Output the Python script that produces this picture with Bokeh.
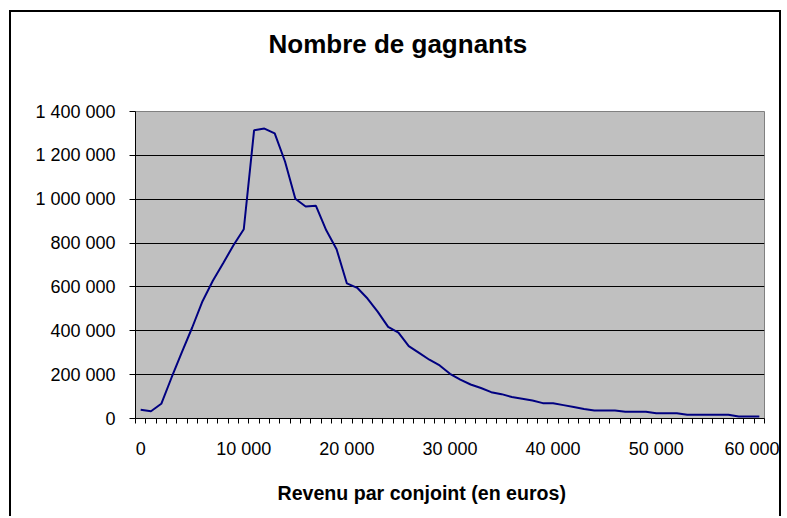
from bokeh.plotting import figure
from bokeh.models import FixedTicker, CustomJSTickFormatter, Range1d, Title
from bokeh.embed import file_html
from bokeh.resources import INLINE

# Data: income per spouse (euros), number of winners
income = list(range(0, 61000, 1000))
winners = [
    40000, 33000, 67000, 187000, 303000, 415000, 535000, 628000, 708000, 790000,
    863000, 1314000, 1322000, 1300000, 1172000, 1002000, 967000, 970000, 858000, 772000,
    616000, 596000, 547000, 486000, 418000, 392000, 330000, 299000, 268000, 242000,
    204000, 177000, 155000, 139000, 120000, 111000, 98000, 90000, 82000, 70000,
    70000, 61000, 52000, 43000, 37000, 37000, 37000, 31000, 31000, 31000,
    24000, 24000, 24000, 17000, 17000, 17000, 17000, 17000, 9000, 9000,
    9000,
]
x_tick_values = [0, 10000, 20000, 30000, 40000, 50000, 60000]
y_tick_values = [0, 200000, 400000, 600000, 800000, 1000000, 1200000, 1400000]
title_text = "Nombre de gagnants"
x_title_text = "Revenu par conjoint (en euros)"

W, H = 772, 506
p = figure(width=W, height=H, output_backend="svg", toolbar_location=None,
           x_range=Range1d(-500, 60500), y_range=Range1d(0, 1400000),
           min_border_left=124, min_border_right=19, min_border_top=99,
           min_border_bottom=100)
p.styles = {"border-top": "2px solid #000", "border-left": "2px solid #000",
            "border-right": "2px solid #000", "box-sizing": "border-box",
            "margin-left": "9px", "margin-top": "10px"}

p.background_fill_color = "#C0C0C0"
p.border_fill_color = "white"
p.outline_line_color = "#808080"
p.outline_line_width = 1

fmt = CustomJSTickFormatter(code="return Math.round(tick).toString().replace(/\\B(?=(\\d{3})+(?!\\d))/g, ' ');")

boundaries = [v - 500 for v in income] + [income[-1] + 500]
xax = p.xaxis[0]
xax.ticker = FixedTicker(ticks=x_tick_values, minor_ticks=boundaries)
xax.formatter = fmt
xax.major_tick_in = 0
xax.major_tick_out = 0
xax.minor_tick_in = 0
xax.minor_tick_out = 5
xax.minor_tick_line_color = "black"
xax.axis_line_color = "black"
xax.major_label_text_font = "Liberation Sans"
xax.major_label_text_font_size = "18px"
xax.major_label_text_color = "black"
xax.major_label_standoff = 15

yax = p.yaxis[0]
yax.ticker = FixedTicker(ticks=y_tick_values)
yax.formatter = fmt
yax.major_tick_in = 0
yax.major_tick_out = 6
yax.minor_tick_out = 0
yax.minor_tick_in = 0
yax.major_tick_line_color = "black"
yax.axis_line_color = "black"
yax.major_label_text_font = "Liberation Sans"
yax.major_label_text_font_size = "18px"
yax.major_label_text_color = "black"
yax.major_label_standoff = 14

p.xgrid.visible = False
p.ygrid.grid_line_color = "black"
p.ygrid.grid_line_width = 1
p.ygrid.ticker = FixedTicker(ticks=y_tick_values)

p.line(income, winners, line_color="#000080", line_width=2)

# spacer panels (nearest the frame) push the titles away from the plot area
p.add_layout(Title(text=" ", standoff=48.5, text_font_size="1px"), "above")
p.add_layout(Title(text=title_text, align="left", offset=133, standoff=0,
                   vertical_align="middle",
                   text_font="Liberation Sans", text_font_style="bold",
                   text_font_size="26px", text_color="black"), "above")
p.add_layout(Title(text=" ", standoff=15.5, text_font_size="1px"), "below")
p.add_layout(Title(text=x_title_text, align="left", offset=142, standoff=0,
                   vertical_align="middle",
                   text_font="Liberation Sans", text_font_style="bold",
                   text_font_size="19.6px", text_color="black"), "below")

open("out.html", "w").write(file_html(p, INLINE))
